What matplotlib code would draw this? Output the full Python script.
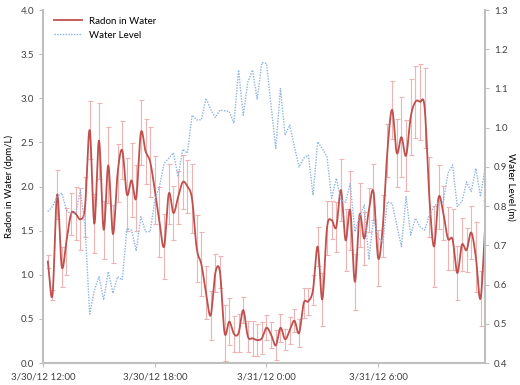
import numpy as np
import matplotlib
matplotlib.use("Agg")
import matplotlib.pyplot as plt

plt.rcParams['font.family'] = ['Lato', 'DejaVu Sans']
plt.rcParams['font.size'] = 7

# samples every 15 min starting 3/30/12 12:15 (hours after 12:00)
hours = 0.25 * np.arange(1, 96)

radon = [1.15, 0.77, 1.91, 1.09, 1.38, 1.69, 1.69, 1.63, 1.77, 2.64,
         1.58, 2.52, 1.51, 2.24, 1.46, 2.15, 2.41, 1.91, 2.07, 1.87,
         2.61, 2.40, 2.28, 1.96, 1.60, 1.32, 1.92, 1.70, 1.88, 2.05,
         2.00, 1.86, 1.30, 1.12, 0.80, 0.54, 1.02, 1.03, 0.34, 0.47,
         0.33, 0.34, 0.60, 0.30, 0.28, 0.26, 0.28, 0.40, 0.32, 0.20,
         0.40, 0.27, 0.37, 0.48, 0.34, 0.68, 0.70, 0.83, 1.32, 0.72,
         1.53, 1.62, 1.54, 1.96, 1.39, 1.73, 0.92, 1.68, 1.41, 1.73,
         1.94, 1.19, 1.55, 2.41, 2.87, 2.38, 2.56, 2.35, 2.79, 2.96,
         2.96, 2.89, 1.88, 1.32, 1.88, 1.70, 1.41, 1.40, 1.02, 1.34,
         1.28, 1.48, 1.20, 0.73, 1.55]

radon_err = [0.07, 0.06, 0.28, 0.23, 0.38, 0.24, 0.30, 0.35, 0.34, 0.33,
             0.33, 0.43, 0.33, 0.43, 0.33, 0.33, 0.33, 0.41, 0.42, 0.37,
             0.37, 0.37, 0.40, 0.39, 0.40, 0.37, 0.34, 0.31, 0.30, 0.31,
             0.30, 0.39, 0.38, 0.36, 0.30, 0.28, 0.22, 0.18, 0.32, 0.27,
             0.20, 0.22, 0.15, 0.18, 0.20, 0.18, 0.18, 0.14, 0.15, 0.17,
             0.16, 0.12, 0.15, 0.13, 0.16, 0.17, 0.15, 0.17, 0.22, 0.30,
             0.31, 0.22, 0.28, 0.35, 0.35, 0.45, 0.32, 0.36, 0.30, 0.25,
             0.32, 0.32, 0.35, 0.30, 0.33, 0.39, 0.45, 0.40, 0.43, 0.41,
             0.43, 0.45, 0.45, 0.46, 0.36, 0.31, 0.36, 0.35, 0.31, 0.30,
             0.25, 0.30, 0.40, 0.31, 0.30]

water = [0.786, 0.799, 0.824, 0.834, 0.790, 0.780, 0.782, 0.841, 0.747, 0.525,
         0.586, 0.620, 0.561, 0.633, 0.578, 0.620, 0.612, 0.743, 0.739, 0.686,
         0.773, 0.735, 0.735, 0.816, 0.850, 0.909, 0.922, 0.936, 0.875, 0.945,
         0.935, 1.032, 1.020, 1.020, 1.075, 1.047, 1.026, 1.045, 1.043, 1.041,
         1.011, 1.147, 1.032, 1.117, 1.147, 1.072, 1.166, 1.164, 1.054, 0.947,
         1.100, 0.981, 1.007, 0.951, 0.900, 0.922, 0.930, 0.828, 0.964, 0.947,
         0.926, 0.820, 0.871, 0.816, 0.810, 0.858, 0.735, 0.773, 0.803, 0.663,
         0.767, 0.720, 0.707, 0.811, 0.807, 0.752, 0.697, 0.824, 0.726, 0.769,
         0.747, 0.739, 0.777, 0.799, 0.811, 0.811, 0.884, 0.905, 0.799, 0.811,
         0.862, 0.837, 0.896, 0.824, 0.900]

xtick_pos = [0, 6, 12, 18]
xtick_labels = ['3/30/12 12:00', '3/30/12 18:00', '3/31/12 0:00', '3/31/12 6:00']

RED = '#C0504D'
ERR = '#EDB4B3'
BLUE = '#8DB3E2'
AXC = '#BFBFBF'


def smooth(x, y, n=12):
    # Catmull-Rom style curve, like Excel's "smoothed line"
    x = np.asarray(x, float)
    y = np.asarray(y, float)
    px = np.concatenate([[2 * x[0] - x[1]], x, [2 * x[-1] - x[-2]]])
    py = np.concatenate([[2 * y[0] - y[1]], y, [2 * y[-1] - y[-2]]])
    t = np.linspace(0, 1, n, endpoint=False)[:, None]
    p0, p1, p2, p3 = py[:-3], py[1:-2], py[2:-1], py[3:]
    q0, q1, q2, q3 = px[:-3], px[1:-2], px[2:-1], px[3:]
    f = lambda a, b, c, d: 0.5 * (2 * b + (-a + c) * t + (2 * a - 5 * b + 4 * c - d) * t ** 2
                                 + (-a + 3 * b - 3 * c + d) * t ** 3)
    sx = np.concatenate([f(q0, q1, q2, q3).T.ravel(), [x[-1]]])
    sy = np.concatenate([f(p0, p1, p2, p3).T.ravel(), [y[-1]]])
    return sx, sy


fig = plt.figure(figsize=(5.2, 3.85), dpi=100)
ax1 = fig.add_axes([0.083, 0.057, 0.850, 0.917])

ax1.errorbar(hours, radon, yerr=radon_err, fmt='none', ecolor=ERR, elinewidth=0.8,
             capsize=1.8, capthick=0.8, zorder=1)
sx, sy = smooth(hours, radon)
l1, = ax1.plot(sx, sy, color=RED, lw=1.3, label='Radon in Water', zorder=2)

ax2 = ax1.twinx()
l2, = ax2.plot(hours, water, color=BLUE, lw=1.0, ls=(0, (1, 1)), label='Water Level')

ax1.set_xlim(0, 23.75)
ax1.set_ylim(0, 4)
ax1.set_yticks(np.arange(0, 4.01, 0.5))
ax1.set_yticklabels(['%.1f' % v for v in np.arange(0, 4.01, 0.5)])
ax2.set_ylim(0.4, 1.3)
ax2.set_yticks(np.arange(0.4, 1.301, 0.1))
ax2.set_yticklabels(['%.1f' % v for v in np.arange(0.4, 1.301, 0.1)])
ax1.set_xticks(xtick_pos)
ax1.set_xticklabels(xtick_labels)

ax1.set_ylabel('Radon in Water (dpm/L)')
ax1.yaxis.set_label_coords(-0.066, 0.5)
ax2.set_ylabel('Water Level (m)', rotation=270, va='center')
ax2.yaxis.set_label_coords(1.058, 0.5)

for ax in (ax1, ax2):
    ax.spines['top'].set_visible(False)
    for s in ('left', 'right', 'bottom'):
        ax.spines[s].set_color(AXC)
        ax.spines[s].set_linewidth(1.5)
    ax.tick_params(colors='#404040', length=3, width=0.8, labelsize=7)
    ax.tick_params(axis='both', color=AXC)
ax1.spines['right'].set_visible(False)
ax2.spines['left'].set_visible(False)
ax2.spines['bottom'].set_visible(False)

ax1.legend(handles=[l1, l2], loc='upper left', frameon=False, fontsize=7,
           handlelength=2.8, borderaxespad=0.3, bbox_to_anchor=(0.01, 1.0))

fig.savefig('out.png', dpi=100)
